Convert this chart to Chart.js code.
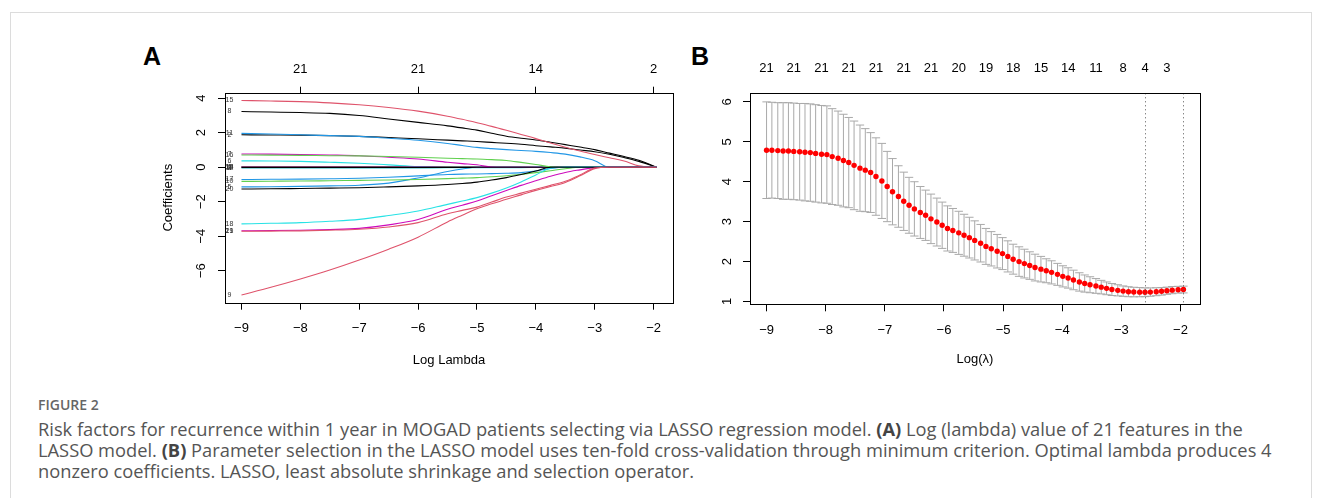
<!DOCTYPE html>
<html>
<head>
<meta charset="utf-8">
<script src="https://cdn.jsdelivr.net/npm/chart.js@4.4.1/dist/chart.umd.min.js"></script>
<style>
  body { margin: 0; width: 1322px; height: 498px; background: #fff; position: relative; overflow: hidden; }
  .frame { position: absolute; left: 10px; top: 12px; width: 1300px; height: 520px; border: 1px solid #dcdcdc; }
  .panel { position: absolute; font: bold 25px "Liberation Sans", Arial, sans-serif; line-height: 25px; color: #000; }
  canvas { position: absolute; }
  .figno { position: absolute; left: 38px; top: 397px; font: 600 14px "Open Sans", sans-serif; line-height: 16px; color: #666; }
  .caption { position: absolute; left: 38px; top: 418px; font: 18.3px "Open Sans", sans-serif; line-height: 21px; color: #555; white-space: nowrap; }
  .caption b { font-weight: 700; color: #444; }
</style>
</head>
<body>
<div class="frame"></div>
<div class="panel" style="left:143px;top:44px">A</div>
<div class="panel" style="left:691px;top:44px">B</div>
<canvas id="graficoCoef" width="560" height="340" style="left:130px;top:40px"></canvas>
<canvas id="graficoCv" width="560" height="340" style="left:690px;top:40px"></canvas>
<div class="figno">FIGURE 2</div>
<div class="caption">Risk factors for recurrence within 1 year in MOGAD patients selecting via LASSO regression model. <b>(A)</b> Log (lambda) value of 21 features in the<br>LASSO model. <b>(B)</b> Parameter selection in the LASSO model uses ten-fold cross-validation through minimum criterion. Optimal lambda produces 4<br>nonzero coefficients. LASSO, least absolute shrinkage and selection operator.</div>
<script>
// Painel A: caminhos dos coeficientes
const logLambdaA = [-9, -8.5, -8, -7.5, -7, -6.5, -6, -5.5, -5.25, -5, -4.75, -4.5, -4.25, -4, -3.75, -3.5, -3.25, -3, -2.75, -2.5, -2.25, -1.95];

const coefV1  = [0.02, 0.02, 0.02, 0.02, 0.02, 0.02, 0.02, 0.01, 0, 0, 0, 0, 0, 0, 0, 0, 0, 0, 0, 0, 0, 0];
const coefV2  = [1.88, 1.87, 1.86, 1.83, 1.79, 1.72, 1.65, 1.57, 1.53, 1.49, 1.44, 1.39, 1.33, 1.25, 1.18, 1.11, 1.00, 0.90, 0.75, 0.56, 0.34, 0];
const coefV3  = [-0.02, -0.02, -0.02, -0.02, -0.02, -0.02, -0.02, -0.01, 0, 0, 0, 0, 0, 0, 0, 0, 0, 0, 0, 0, 0, 0];
const coefV4  = [0.03, 0.03, 0.03, 0.03, 0.03, 0.03, 0.03, 0.03, 0.03, 0.03, 0.02, 0.02, 0.02, 0.01, 0, 0, 0, 0, 0, 0, 0, 0];
const coefV5  = [-1.14, -1.13, -1.11, -1.08, -1.04, -0.92, -0.62, -0.25, -0.10, 0, 0, 0, 0, 0, 0, 0, 0, 0, 0, 0, 0, 0];
const coefV6  = [0.37, 0.36, 0.34, 0.29, 0.23, 0.14, 0.04, 0, 0, 0, 0, 0, 0, 0, 0, 0, 0, 0, 0, 0, 0, 0];
const coefV7  = [0.77, 0.76, 0.74, 0.71, 0.67, 0.58, 0.48, 0.29, 0.21, 0.14, 0.01, 0, 0, 0, 0, 0, 0, 0, 0, 0, 0, 0];
const coefV8  = [3.23, 3.20, 3.17, 3.12, 3.00, 2.80, 2.60, 2.40, 2.28, 2.15, 1.97, 1.80, 1.68, 1.58, 1.45, 1.31, 1.17, 1.02, 0.82, 0.62, 0.40, 0];
const coefV9  = [-7.40, -6.96, -6.48, -5.96, -5.38, -4.75, -4.05, -3.17, -2.78, -2.40, -2.12, -1.85, -1.60, -1.34, -1.12, -0.88, -0.50, -0.08, 0, 0, 0, 0];
const coefV10 = [-0.82, -0.81, -0.80, -0.78, -0.76, -0.74, -0.71, -0.66, -0.63, -0.60, -0.55, -0.49, -0.41, -0.31, -0.20, -0.09, 0, 0, 0, 0, 0, 0];
const coefV11 = [1.96, 1.93, 1.88, 1.83, 1.79, 1.68, 1.56, 1.38, 1.26, 1.15, 1.08, 1.02, 0.97, 0.92, 0.85, 0.76, 0.60, 0.38, 0, 0, 0, 0];
const coefV12 = [-0.04, -0.04, -0.04, -0.04, -0.04, -0.04, -0.04, -0.03, -0.03, -0.03, -0.03, -0.02, -0.02, -0.01, 0, 0, 0, 0, 0, 0, 0, 0];
const coefV13 = [0.01, 0.01, 0.01, 0.01, 0.01, 0.01, 0.01, 0, 0, 0, 0, 0, 0, 0, 0, 0, 0, 0, 0, 0, 0, 0];
const coefV14 = [-0.01, -0.01, -0.01, -0.01, -0.01, -0.01, -0.01, -0.01, -0.01, 0, 0, 0, 0, 0, 0, 0, 0, 0, 0, 0, 0, 0];
const coefV15 = [3.87, 3.84, 3.80, 3.73, 3.62, 3.46, 3.25, 2.96, 2.78, 2.58, 2.37, 2.14, 1.90, 1.66, 1.40, 1.16, 0.94, 0.74, 0.55, 0.36, 0.08, 0];
const coefV16 = [0.71, 0.70, 0.69, 0.67, 0.66, 0.62, 0.58, 0.52, 0.50, 0.48, 0.44, 0.39, 0.28, 0.16, 0.03, 0, 0, 0, 0, 0, 0, 0];
const coefV17 = [-0.71, -0.70, -0.69, -0.67, -0.64, -0.58, -0.50, -0.42, -0.40, -0.39, -0.37, -0.35, -0.31, -0.22, -0.07, 0, 0, 0, 0, 0, 0, 0];
const coefV18 = [-3.28, -3.25, -3.21, -3.13, -3.02, -2.80, -2.54, -2.15, -1.96, -1.76, -1.50, -1.20, -0.85, -0.45, -0.05, 0, 0, 0, 0, 0, 0, 0];
const coefV19 = [-3.68, -3.67, -3.65, -3.61, -3.54, -3.34, -3.03, -2.44, -2.20, -1.96, -1.65, -1.35, -1.05, -0.78, -0.52, -0.30, -0.15, -0.02, 0, 0, 0, 0];
const coefV20 = [-1.26, -1.25, -1.23, -1.21, -1.19, -1.14, -1.08, -1.00, -0.94, -0.86, -0.74, -0.60, -0.42, -0.22, 0, 0, 0, 0, 0, 0, 0, 0];
const coefV21 = [-3.71, -3.70, -3.69, -3.65, -3.59, -3.46, -3.21, -2.69, -2.50, -2.31, -2.02, -1.73, -1.50, -1.27, -1.05, -0.81, -0.45, -0.04, 0, 0, 0, 0];

const dfTicksA = [-8, -6, -4, -2];
const dfLabelsA = [21, 21, 14, 2];
const xTicks = [-9, -8, -7, -6, -5, -4, -3, -2];
const yTicksA = [-6, -4, -2, 0, 2, 4];

// Painel B: validação cruzada
const logLambdaB = [-9.00, -8.91, -8.81, -8.72, -8.63, -8.54, -8.44, -8.35, -8.26, -8.17, -8.07, -7.98, -7.89, -7.79, -7.70, -7.61,
  -7.52, -7.42, -7.33, -7.24, -7.15, -7.05, -6.96, -6.87, -6.77, -6.68, -6.59, -6.50, -6.40, -6.31, -6.22, -6.12, -6.03, -5.94,
  -5.85, -5.75, -5.66, -5.57, -5.48, -5.38, -5.29, -5.20, -5.10, -5.01, -4.92, -4.83, -4.73, -4.64, -4.55, -4.46, -4.36, -4.27,
  -4.18, -4.08, -3.99, -3.90, -3.81, -3.71, -3.62, -3.53, -3.43, -3.34, -3.25, -3.16, -3.06, -2.97, -2.88, -2.79, -2.69, -2.60,
  -2.51, -2.41, -2.32, -2.23, -2.14, -2.04, -1.95];
const cvMean = [4.79, 4.79, 4.78, 4.77, 4.77, 4.76, 4.75, 4.74, 4.73, 4.71, 4.69, 4.68,
  4.63, 4.59, 4.53, 4.48, 4.41, 4.34, 4.29, 4.23, 4.13, 4.02, 3.88, 3.75,
  3.63, 3.51, 3.41, 3.32, 3.23, 3.16, 3.07, 2.99, 2.91, 2.83, 2.78, 2.72, 2.66, 2.60,
  2.53, 2.46, 2.38, 2.32, 2.26, 2.20, 2.13, 2.06, 2.00, 1.95, 1.90, 1.85, 1.81, 1.77, 1.73, 1.68, 1.63, 1.59, 1.54,
  1.49, 1.45, 1.42, 1.39, 1.36, 1.33, 1.30, 1.28, 1.26, 1.245, 1.237, 1.234, 1.232, 1.236, 1.245, 1.255, 1.27, 1.285, 1.295, 1.30];
const cvSd = [1.21, 1.20, 1.20, 1.21, 1.21, 1.21, 1.21, 1.22, 1.22, 1.22, 1.22, 1.22,
  1.20, 1.18, 1.16, 1.13, 1.11, 1.08, 1.04, 1.00, 0.97, 0.94, 0.88, 0.83,
  0.77, 0.73, 0.70, 0.68, 0.65, 0.63, 0.62, 0.60, 0.58, 0.565, 0.55, 0.54, 0.525, 0.51,
  0.49, 0.47, 0.45, 0.43, 0.42, 0.40, 0.39, 0.375, 0.37, 0.36, 0.345, 0.335, 0.32, 0.30, 0.29, 0.275, 0.265, 0.255, 0.245,
  0.23, 0.215, 0.20, 0.185, 0.17, 0.16, 0.15, 0.14, 0.13, 0.125, 0.12, 0.115, 0.11, 0.105, 0.10, 0.095, 0.09, 0.09, 0.085, 0.085];
const nzIndexB = [0, 5, 10, 15, 20, 25, 30, 35, 40, 45, 50, 55, 60, 65, 69, 73];
const nzLabelsB = [21, 21, 21, 21, 21, 21, 21, 20, 19, 18, 15, 14, 11, 8, 4, 3];
const yTicksB = [1, 2, 3, 4, 5, 6];

// cores padrão do R (palette())
const paletaR = ['#000000', '#DF536B', '#61D04F', '#2297E6', '#28E2E5', '#CD0BBC'];
const coefPaths = [coefV1, coefV2, coefV3, coefV4, coefV5, coefV6, coefV7, coefV8, coefV9, coefV10, coefV11,
  coefV12, coefV13, coefV14, coefV15, coefV16, coefV17, coefV18, coefV19, coefV20, coefV21];

Chart.defaults.font.family = '"Liberation Sans", Arial, sans-serif';
Chart.defaults.font.size = 13;
Chart.defaults.color = '#000';

const menos = v => String(v).replace('-', '\u2212');
const fonteEixo = { family: '"Liberation Sans", Arial, sans-serif', size: 13 };

function fixarTicks(valores) {
    return scale => { scale.ticks = valores.map(v => ({ value: v })); };
}

// caixa do gráfico + rótulos verticais do eixo y (como no R)
function desenharCaixaEixoY(chart, ticksY, xLabel) {
    const ctx = chart.ctx;
    const a = chart.chartArea;
    const ys = chart.scales.y;
    ctx.save();
    ctx.strokeStyle = '#000';
    ctx.lineWidth = 1;
    ctx.strokeRect(Math.round(a.left) + 0.5, Math.round(a.top) + 0.5,
        Math.round(a.right - a.left), Math.round(a.bottom - a.top));
    ctx.fillStyle = '#000';
    ctx.font = '13px "Liberation Sans", Arial, sans-serif';
    ctx.textAlign = 'center';
    ctx.textBaseline = 'middle';
    ticksY.forEach(v => {
        ctx.save();
        ctx.translate(xLabel, ys.getPixelForValue(v));
        ctx.rotate(-Math.PI / 2);
        ctx.fillText(menos(v), 0, 0);
        ctx.restore();
    });
    ctx.restore();
}

const pluginCoef = {
    id: 'pluginCoef',
    afterDraw(chart) {
        desenharCaixaEixoY(chart, yTicksA, 71);
        const ctx = chart.ctx;
        const xs = chart.scales.x, ys = chart.scales.y;
        ctx.save();
        ctx.fillStyle = '#333';
        ctx.font = '7px "Liberation Sans", Arial, sans-serif';
        ctx.textAlign = 'center';
        ctx.textBaseline = 'middle';
        const xt = xs.getPixelForValue(logLambdaA[0]) - 12;
        coefPaths.forEach((c, i) => ctx.fillText(String(i + 1), xt, ys.getPixelForValue(c[0])));
        ctx.restore();
    }
};

const graficoCoef = new Chart(document.getElementById('graficoCoef'), {
    type: 'line',
    data: {
        datasets: coefPaths.map((c, i) => ({
            label: String(i + 1),
            data: logLambdaA.map((x, j) => ({ x: x, y: c[j] })),
            borderColor: paletaR[(i + 5) % 6],
            borderWidth: 1.1,
            pointRadius: 0,
            cubicInterpolationMode: 'monotone',
            order: 21 - i
        }))
    },
    options: {
        responsive: false,
        animation: false,
        devicePixelRatio: 1,
        layout: { padding: { left: 0, right: 17, top: 0, bottom: 0 } },
        plugins: { legend: { display: false }, tooltip: { enabled: false } },
        scales: {
            x: {
                type: 'linear', position: 'bottom', min: -9.28, max: -1.67,
                afterBuildTicks: fixarTicks(xTicks),
                afterFit: s => { s.height = 77.3; },
                ticks: { callback: v => menos(v), autoSkip: false, maxRotation: 0, padding: 11, font: fonteEixo },
                grid: { drawOnChartArea: false, drawTicks: true, tickLength: 7, color: '#000' },
                border: { display: false },
                title: { display: true, text: 'Log Lambda', font: fonteEixo, padding: { top: 0, bottom: 12 } }
            },
            x2: {
                type: 'linear', position: 'top', min: -9.28, max: -1.67,
                afterBuildTicks: fixarTicks(dfTicksA),
                afterFit: s => { s.height = 52.7; },
                ticks: { callback: (v, i) => String(dfLabelsA[i]), autoSkip: false, maxRotation: 0, padding: 9, font: fonteEixo },
                grid: { drawOnChartArea: false, drawTicks: true, tickLength: 6, color: '#000' },
                border: { display: false }
            },
            y: {
                type: 'linear', position: 'left', min: -7.85, max: 4.32,
                afterBuildTicks: fixarTicks(yTicksA),
                afterFit: s => { s.width = 95; },
                ticks: { display: false },
                grid: { drawOnChartArea: false, drawTicks: true, tickLength: 7, color: '#000' },
                border: { display: false },
                title: { display: true, text: 'Coefficients', font: fonteEixo, padding: { top: 31, bottom: 0 } }
            }
        }
    },
    plugins: [pluginCoef]
});

// lambda.min e lambda.1se
const iMin = cvMean.indexOf(Math.min(...cvMean));
const limite1se = cvMean[iMin] + cvSd[iMin];
let i1se = iMin;
cvMean.forEach((m, i) => { if (i > iMin && m <= limite1se) i1se = i; });

const pluginCv = {
    id: 'pluginCv',
    beforeDatasetsDraw(chart) {
        const ctx = chart.ctx;
        const xs = chart.scales.x, ys = chart.scales.y;
        const meiaLargura = (logLambdaB[logLambdaB.length - 1] - logLambdaB[0]) * 0.01;
        ctx.save();
        ctx.strokeStyle = '#a9a9a9';
        ctx.lineWidth = 1;
        logLambdaB.forEach((lx, i) => {
            const x = xs.getPixelForValue(lx);
            const w = xs.getPixelForValue(lx + meiaLargura) - x;
            const yu = ys.getPixelForValue(cvMean[i] + cvSd[i]);
            const yl = ys.getPixelForValue(cvMean[i] - cvSd[i]);
            ctx.beginPath();
            ctx.moveTo(x, yu); ctx.lineTo(x, yl);
            ctx.moveTo(x - w, yu); ctx.lineTo(x + w, yu);
            ctx.moveTo(x - w, yl); ctx.lineTo(x + w, yl);
            ctx.stroke();
        });
        ctx.restore();
    },
    afterDraw(chart) {
        const ctx = chart.ctx;
        const a = chart.chartArea;
        const xs = chart.scales.x;
        ctx.save();
        ctx.strokeStyle = '#555';
        ctx.lineWidth = 1;
        ctx.setLineDash([1, 3]);
        [iMin, i1se].forEach(i => {
            const x = Math.round(xs.getPixelForValue(logLambdaB[i])) + 0.5;
            ctx.beginPath();
            ctx.moveTo(x, a.top); ctx.lineTo(x, a.bottom);
            ctx.stroke();
        });
        ctx.restore();
        desenharCaixaEixoY(chart, yTicksB, 37);
    }
};

const graficoCv = new Chart(document.getElementById('graficoCv'), {
    type: 'line',
    data: {
        datasets: [{
            data: logLambdaB.map((x, i) => ({ x: x, y: cvMean[i] })),
            showLine: false,
            pointRadius: 2.7,
            pointBorderWidth: 0,
            pointBackgroundColor: '#ff0000',
            borderColor: '#ff0000'
        }]
    },
    options: {
        responsive: false,
        animation: false,
        devicePixelRatio: 1,
        layout: { padding: { left: 0, right: 50, top: 0, bottom: 0 } },
        plugins: { legend: { display: false }, tooltip: { enabled: false } },
        scales: {
            x: {
                type: 'linear', position: 'bottom', min: -9.28, max: -1.67,
                afterBuildTicks: fixarTicks(xTicks),
                afterFit: s => { s.height = 75.7; },
                ticks: { callback: v => menos(v), autoSkip: false, maxRotation: 0, padding: 11, font: fonteEixo },
                grid: { drawOnChartArea: false, drawTicks: true, tickLength: 7, color: '#000' },
                border: { display: false },
                title: { display: true, text: 'Log(\u03bb)', font: fonteEixo, padding: { top: 0, bottom: 13 } }
            },
            x2: {
                type: 'linear', position: 'top', min: -9.28, max: -1.67,
                afterBuildTicks: fixarTicks(nzIndexB.map(i => logLambdaB[i])),
                afterFit: s => { s.height = 53.3; },
                ticks: { callback: (v, i) => String(nzLabelsB[i]), autoSkip: false, maxRotation: 0, padding: 16.6, font: fonteEixo },
                grid: { display: true, drawOnChartArea: false, drawTicks: false },
                border: { display: false }
            },
            y: {
                type: 'linear', position: 'left', min: 0.93, max: 6.215,
                afterBuildTicks: fixarTicks(yTicksB),
                afterFit: s => { s.width = 60; },
                ticks: { display: false },
                grid: { drawOnChartArea: false, drawTicks: true, tickLength: 7, color: '#000' },
                border: { display: false }
            }
        }
    },
    plugins: [pluginCv]
});
</script>
</body>
</html>
